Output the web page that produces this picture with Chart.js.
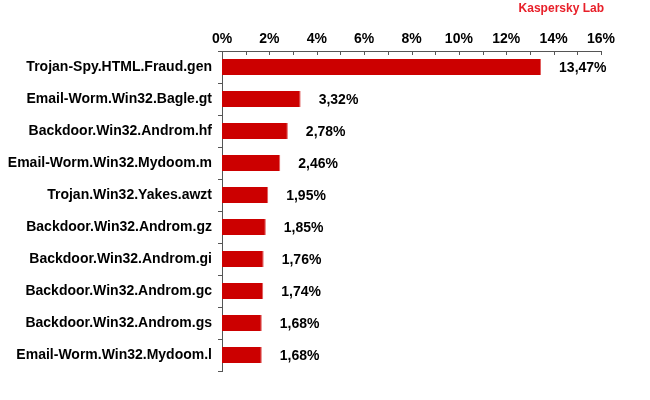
<!DOCTYPE html>
<html><head><meta charset="utf-8">
<script src="https://cdn.jsdelivr.net/npm/chart.js@4"></script>
<style>
html,body{margin:0;padding:0;background:#fff;}
#wrap{position:relative;width:650px;height:400px;}
#brand{position:absolute;right:46px;top:1px;font:bold 12px "Liberation Sans",Arial,sans-serif;color:#e8202a;line-height:15px;}
</style></head>
<body>
<div id="wrap">
<canvas id="c" width="650" height="400"></canvas>
<div id="brand">Kaspersky Lab</div>
</div>
<script>
const categories = [
  "Trojan-Spy.HTML.Fraud.gen",
  "Email-Worm.Win32.Bagle.gt",
  "Backdoor.Win32.Androm.hf",
  "Email-Worm.Win32.Mydoom.m",
  "Trojan.Win32.Yakes.awzt",
  "Backdoor.Win32.Androm.gz",
  "Backdoor.Win32.Androm.gi",
  "Backdoor.Win32.Androm.gc",
  "Backdoor.Win32.Androm.gs",
  "Email-Worm.Win32.Mydoom.l"
];
const shares = [13.47, 3.32, 2.78, 2.46, 1.95, 1.85, 1.76, 1.74, 1.68, 1.68];
const xTickMax = 16;

const FONT = '"Liberation Sans", Arial, sans-serif';
const AXIS = '#555555';

const fmt = v => v.toFixed(2).replace('.', ',') + '%';

const valueLabels = {
  id: 'valueLabels',
  afterDatasetsDraw(chart) {
    const ctx = chart.ctx;
    const meta = chart.getDatasetMeta(0);
    ctx.save();
    ctx.font = 'bold 14px ' + FONT;
    ctx.fillStyle = '#000';
    ctx.textBaseline = 'middle';
    ctx.textAlign = 'left';
    meta.data.forEach((bar, i) => {
      ctx.fillText(fmt(shares[i]), bar.x + 18, bar.y + 1);
    });
    ctx.restore();
  }
};

const innerTicks = {
  id: 'innerTicks',
  afterDraw(chart) {
    const ctx = chart.ctx;
    const xs = chart.scales.x;
    const top = chart.chartArea.top;
    ctx.save();
    ctx.strokeStyle = AXIS;
    ctx.lineWidth = 1;
    ctx.beginPath();
    for (let v = 0; v <= xTickMax; v++) {
      const px = Math.round(xs.getPixelForValue(v)) + 0.5;
      ctx.moveTo(px, top);
      ctx.lineTo(px, top + 4);
    }
    ctx.stroke();
    ctx.restore();
  }
};

new Chart(document.getElementById('c'), {
  type: 'bar',
  data: {
    labels: categories,
    datasets: [{
      data: shares,
      backgroundColor: '#cc0000',
      borderColor: '#e05a5a',
      borderWidth: {top: 0, bottom: 0, left: 0, right: 1},
      barPercentage: 0.5,
      categoryPercentage: 1.0
    }]
  },
  options: {
    indexAxis: 'y',
    responsive: false,
    animation: false,
    devicePixelRatio: 1,
    layout: {padding: {left: 0, right: 49, top: 0, bottom: 29}},
    plugins: {legend: {display: false}, tooltip: {enabled: false}},
    scales: {
      x: {
        position: 'top',
        min: 0,
        max: xTickMax,
        afterFit(s) { s.height = 51; },
        ticks: {
          stepSize: 1,
          autoSkip: false,
          maxRotation: 0,
          padding: 3,
          color: '#000',
          font: {family: FONT, size: 14, weight: 'bold'},
          callback: v => (v % 2 === 0 ? v + '%' : '')
        },
        grid: {display: false, drawTicks: false},
        border: {display: true, color: AXIS, width: 1}
      },
      y: {
        offset: true,
        afterFit(s) { s.width = 222; },
        ticks: {
          padding: 6,
          color: '#000',
          font: {family: FONT, size: 14, weight: 'bold'}
        },
        grid: {
          offset: true,
          drawOnChartArea: false,
          drawTicks: true,
          tickLength: 4,
          color: AXIS
        },
        border: {display: true, color: AXIS, width: 1}
      }
    }
  },
  plugins: [valueLabels, innerTicks]
});
</script>
</body></html>
